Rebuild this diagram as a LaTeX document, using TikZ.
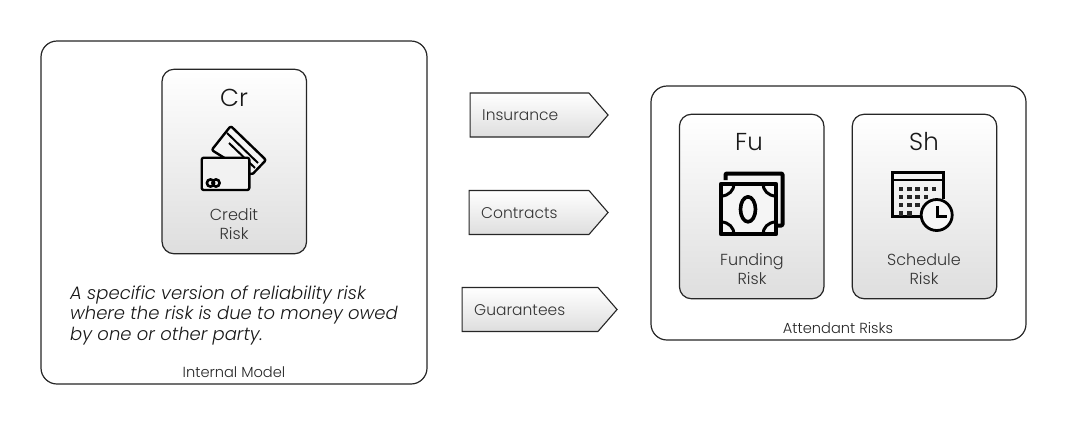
\documentclass[tikz,border=0pt]{standalone}
\usepackage{fontspec}
\setmainfont{Poppins}[UprightFont=* Light,ItalicFont=* Light Italic]
\usetikzlibrary{shapes.symbols}

\begin{document}
\begin{tikzpicture}[x=1pt,y=-1pt]
\tikzset{frame/.style = {shape=rectangle,draw=black!85,line width=1.2pt,rounded corners=16pt,inner sep=0pt,fill=white}}
\tikzset{card/.style = {shape=rectangle,draw=black!85,line width=1.2pt,rounded corners=12pt,inner sep=0pt,minimum width=144.5pt,minimum height=184.5pt,top color=white,bottom color=black!13}}
\tikzset{tag/.style = {shape=signal,signal to=east,signal from=nowhere,signal pointer angle=98,draw=black!85,line width=1.1pt,inner sep=0pt,minimum height=44pt,top color=white,bottom color=black!13}}
\tikzset{code/.style = {font=\fontsize{24.5}{24}\selectfont,text=black!90,inner sep=0pt}}
\tikzset{caption/.style = {font=\fontsize{16}{18.5}\selectfont,text=black!80,align=center,inner sep=0pt}}
\tikzset{tagtext/.style = {font=\fontsize{15.5}{18}\selectfont,text=black!80,anchor=west,inner sep=0pt}}
\tikzset{foot/.style = {font=\fontsize{14.6}{15}\selectfont,text=black!85,inner sep=0pt}}
\tikzset{icon/.style = {draw=black,line width=2.4pt,line join=round}}
\tikzset{dot/.style = {fill=black!85}}
\useasboundingbox (0,0) rectangle (1066,424);

%frames
\node[frame,minimum width=386pt,minimum height=343pt] (model) at (234,212.5) {};
\node[frame,minimum width=375pt,minimum height=254pt] (attendant) at (838.5,213) {};

%cards
\node[card] (credit) at (234.3,161.5) {};
\node[card] (funding) at (751.7,206.5) {};
\node[card] (schedule) at (924.5,206.5) {};

%tags
\node[tag,minimum width=138pt] (insurance) at (529.5,115) {};
\node[tag,minimum width=139pt] (contracts) at (529,212.5) {};
\node[tag,minimum width=155pt] (guarantees) at (530,309.5) {};
\node[tagtext] (insurancetext) at (482,115) {Insurance};
\node[tagtext] (contractstext) at (481,213) {Contracts};
\node[tagtext] (guaranteestext) at (474,310) {Guarantees};

%card texts
\node[code] (cr) at (234,98) {Cr};
\node[code] (fu) at (749,142) {Fu};
\node[code] (sh) at (924,142) {Sh};
\node[caption] (creditrisk) at (234,224) {Credit\\Risk};
\node[caption] (fundingrisk) at (752,269) {Funding\\Risk};
\node[caption] (schedulerisk) at (924,269) {Schedule\\Risk};

%frame texts
\node[font=\fontsize{18}{20.5}\selectfont\itshape,text=black!90,align=left,anchor=north west,inner sep=0pt] (note) at (70,285.5) {A specific version of reliability risk\\where the risk is due to money owed\\by one or other party.};
\node[foot] (internal) at (234,372) {Internal Model};
\node[foot] (attendantrisks) at (838,328) {Attendant Risks};

%icon: credit cards
\draw[icon,rounded corners=2pt,fill=black!4] (230.7,126) -- (266,160) -- (251.7,175) -- (211.7,150) -- cycle;
\draw[icon,line width=2pt] (229,143) -- (255,168);
\draw[icon,line width=2pt] (227,133) -- (258,163);
\draw[icon,rounded corners=2pt,fill=black!5] (201.7,157.7) rectangle (249.3,190);
\draw[icon,line width=2.6pt] (210.5,183) circle (3.6);
\draw[icon,line width=2.6pt] (216,183) circle (3.6);

%icon: banknotes
\draw[icon,line width=4pt,rounded corners=1pt] (725.5,180) -- (725.5,173.5) -- (782.5,173.5) -- (782.5,225.5) -- (778,225.5);
\draw[icon,line width=4.4pt,fill=black!4] (721,184) rectangle (776,234);
\draw[icon,line width=3pt] (721,196) .. controls (729,196) and (734,190) .. (734,184);
\draw[icon,line width=3pt] (763,184) .. controls (763,190) and (768,196) .. (776,196);
\draw[icon,line width=3pt] (721,222) .. controls (729,222) and (734,228) .. (734,234);
\draw[icon,line width=3pt] (763,234) .. controls (763,228) and (768,222) .. (776,222);
\draw[icon,line width=3.6pt] (748,209.3) ellipse (7.5 and 12.5);

%icon: calendar
\draw[icon,line width=3.4pt,line join=miter] (920,216.7) -- (892.5,216.7) -- (892.5,172.5) -- (943.5,172.5) -- (943.5,199);
\draw[icon] (892.5,180) -- (943.5,180);
\foreach \x/\n in {189/5,197/4,205/3,213.3/2}
  \foreach \i in {1,...,\n}
    \fill[dot] ({892.7+8.3*\i-2.2},\x-2.2) rectangle ++(4.4,4.4);
\draw[icon,line width=2.8pt,fill=black!3] (936.7,215) circle (15.5);
\draw[icon,line width=2.8pt,line join=miter] (937.3,206) -- (937.3,216.7) -- (946.7,216.7);
\end{tikzpicture}
\end{document}
